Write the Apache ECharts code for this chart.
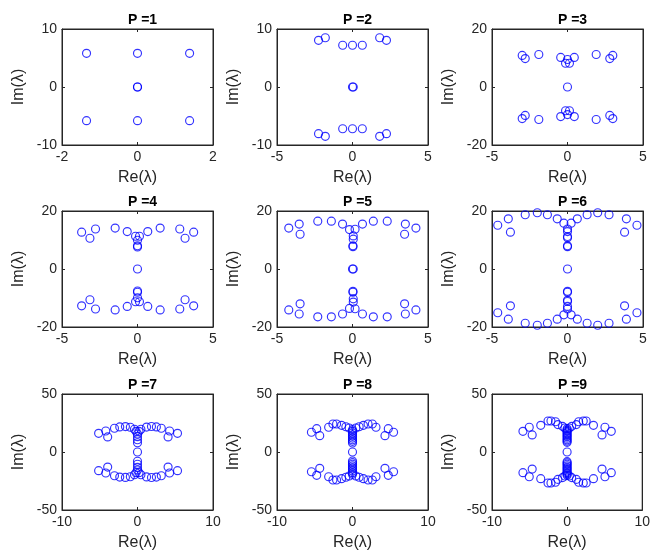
<!DOCTYPE html>
<html><head><meta charset="utf-8">
<script src="https://cdn.jsdelivr.net/npm/echarts@6/dist/echarts.min.js"></script>
<style>html,body{margin:0;padding:0;background:#fff}#c{width:653px;height:558px}</style>
</head><body><div id="c"></div>
<script>
const panelTitles = ['P =1','P =2','P =3','P =4','P =5','P =6','P =7','P =8','P =9'];
const xRanges = [[-2,2,2],[-5,5,5],[-5,5,5],[-5,5,5],[-5,5,5],[-5,5,5],[-10,10,10],[-10,10,10],[-10,10,10]];
const yRanges = [[-10,10,10],[-10,10,10],[-20,20,20],[-20,20,20],[-20,20,20],[-20,20,20],[-50,50,50],[-50,50,50],[-50,50,50]];

const p1 = [[-1.35,5.8],[0,5.8],[1.38,5.8],[0,0],[0,0],[-1.35,-5.8],[0,-5.8],[1.38,-5.8]];
const p2 = [[-2.25,8.05],[-1.8,8.5],[-0.65,7.2],[0,7.2],[0.65,7.2],[1.8,8.5],[2.25,8.05],[0,0],[0.05,0],
  [-2.25,-8.05],[-1.8,-8.5],[-0.65,-7.2],[0,-7.2],[0.65,-7.2],[1.8,-8.5],[2.25,-8.05]];
const p3 = [[-3.0,10.9],[-2.8,9.8],[-1.9,11.2],[-0.45,10.2],[0,9.5],[-0.13,8.2],[0.13,8.2],[0.45,10.2],[1.9,11.2],[2.8,9.8],[3.0,10.9],[0,0],
  [-3.0,-10.9],[-2.8,-9.8],[-1.9,-11.2],[-0.45,-10.2],[0,-9.5],[-0.13,-8.2],[0.13,-8.2],[0.45,-10.2],[1.9,-11.2],[2.8,-9.8],[3.0,-10.9]];
const p4 = [[-3.7,12.7],[-3.15,10.6],[-2.78,13.8],[-1.48,14.1],[-0.68,12.9],[-0.13,11.3],[0.13,11.3],[0,9.9],[0,8.0],[0,7.6],[0.68,12.9],[1.5,14.1],[2.8,13.8],[3.15,10.6],[3.72,12.7],[0,0],
  [-3.7,-12.7],[-3.15,-10.6],[-2.78,-13.8],[-1.48,-14.1],[-0.68,-12.9],[-0.13,-11.3],[0.13,-11.3],[0,-9.9],[0,-8.0],[0,-7.6],[0.68,-12.9],[1.5,-14.1],[2.8,-13.8],[3.15,-10.6],[3.72,-12.7]];
const p5 = [[-4.22,14.1],[-3.53,15.5],[-3.47,12.0],[-2.3,16.5],[-1.4,16.5],[-0.66,15.5],[-0.2,13.6],[0.17,13.7],[0.05,11.4],[0.05,10.3],[0.03,8.0],[0.03,7.7],[0.66,15.5],[1.38,16.5],[2.3,16.5],[3.5,15.5],[3.45,12.0],[4.2,14.1],[0,0],[0.05,0],
  [-4.22,-14.1],[-3.53,-15.5],[-3.47,-12.0],[-2.3,-16.5],[-1.4,-16.5],[-0.66,-15.5],[-0.2,-13.6],[0.17,-13.7],[0.05,-11.4],[0.05,-10.3],[0.03,-8.0],[0.03,-7.7],[0.66,-15.5],[1.38,-16.5],[2.3,-16.5],[3.5,-15.5],[3.45,-12.0],[4.2,-14.1]];
const p6 = [[-4.62,15.1],[-3.92,17.3],[-3.78,12.7],[-2.8,18.7],[-2.0,19.4],[-1.33,18.7],[-0.68,17.3],[-0.24,15.8],[0.24,15.8],[0,13.8],[0,12.9],[0,11.2],[0,10.8],[0,8.0],[0,7.7],[0.65,17.3],[1.3,18.7],[2.0,19.4],[2.75,18.7],[3.9,17.3],[3.78,12.7],[4.6,15.1],[0,0],
  [-4.62,-15.1],[-3.92,-17.3],[-3.78,-12.7],[-2.8,-18.7],[-2.0,-19.4],[-1.33,-18.7],[-0.68,-17.3],[-0.24,-15.8],[0.24,-15.8],[0,-13.8],[0,-12.9],[0,-11.2],[0,-10.8],[0,-8.0],[0,-7.7],[0.65,-17.3],[1.3,-18.7],[2.0,-19.4],[2.75,-18.7],[3.9,-17.3],[3.78,-12.7],[4.6,-15.1]];
const p7 = [[-5.15,16.1],[-4.2,18.1],[-3.95,13.0],[-3.05,20.5],[-2.35,21.6],[-1.6,21.9],[-0.95,21.3],[-0.4,19.6],[-0.2,17.8],[0,15.5],[0,13.2],[0,10.6],[0,8.0],[0.2,17.8],[0.45,19.6],[1.2,21.5],[1.85,22.0],[2.5,21.6],[3.15,20.5],[4.25,18.1],[4.05,13.0],[5.3,16.1],[0,0],
  [-5.15,-16.1],[-4.2,-18.1],[-3.95,-13.0],[-3.05,-20.5],[-2.35,-21.6],[-1.6,-21.9],[-0.95,-21.3],[-0.4,-19.6],[-0.2,-17.8],[0,-15.5],[0,-13.2],[0,-10.6],[0,-8.0],[0.2,-17.8],[0.45,-19.6],[1.2,-21.5],[1.85,-22.0],[2.5,-21.6],[3.15,-20.5],[4.25,-18.1],[4.05,-13.0],[5.3,-16.1]];
const p8 = [[-5.44,17.0],[-4.74,20.1],[-4.34,14.1],[-3.16,21.3],[-2.59,24.1],[-2.11,24.1],[-1.45,23.0],[-0.88,21.8],[-0.44,20.7],[0,19.3],[0,17.8],[0,16.4],[0,14.9],[0,13.5],[0,12.0],[0,10.6],[0,9.2],[0,7.8],[0.44,20.7],[0.88,21.8],[1.45,23.0],[2.06,24.1],[2.63,24.1],[3.11,21.3],[4.3,14.1],[4.74,20.1],[5.44,17.0],[0,0],
  [-5.44,-17.0],[-4.74,-20.1],[-4.34,-14.1],[-3.16,-21.3],[-2.59,-24.1],[-2.11,-24.1],[-1.45,-23.0],[-0.88,-21.8],[-0.44,-20.7],[0,-19.3],[0,-17.8],[0,-16.4],[0,-14.9],[0,-13.5],[0,-12.0],[0,-10.6],[0,-9.2],[0,-7.8],[0.44,-20.7],[0.88,-21.8],[1.45,-23.0],[2.06,-24.1],[2.63,-24.1],[3.11,-21.3],[4.3,-14.1],[4.74,-20.1],[5.44,-17.0]];
const p9 = [[-5.88,17.8],[-5.04,21.3],[-4.65,14.7],[-3.51,23.0],[-2.54,26.7],[-2.15,26.7],[-1.54,26.1],[-1.23,23.6],[-0.61,22.1],[-0.3,20.7],[0,20.1],[0,18.9],[0,17.8],[0,16.6],[0,15.5],[0,14.3],[0,13.2],[0,11.9],[0,10.6],[0,9.4],[0,8.3],[0.3,20.7],[0.61,22.1],[1.23,23.6],[1.54,26.1],[2.15,26.7],[2.54,26.7],[3.51,23.0],[4.65,14.7],[5.04,21.3],[5.88,17.8],[0,0],
  [-5.88,-17.8],[-5.04,-21.3],[-4.65,-14.7],[-3.51,-23.0],[-2.54,-26.7],[-2.15,-26.7],[-1.54,-26.1],[-1.23,-23.6],[-0.61,-22.1],[-0.3,-20.7],[0,-20.1],[0,-18.9],[0,-17.8],[0,-16.6],[0,-15.5],[0,-14.3],[0,-13.2],[0,-11.9],[0,-10.6],[0,-9.4],[0,-8.3],[0.3,-20.7],[0.61,-22.1],[1.23,-23.6],[1.54,-26.1],[2.15,-26.7],[2.54,-26.7],[3.51,-23.0],[4.65,-14.7],[5.04,-21.3],[5.88,-17.8]];

const panelData = [p1,p2,p3,p4,p5,p6,p7,p8,p9];

const FONT = 'Liberation Sans';
const INK = '#262626';
const colLeft = [62, 277, 492];
const rowTop = [29, 211, 394];
const W = 151, H = 116;

const option = {
  animation: false,
  backgroundColor: '#fff',
  textStyle: {fontFamily: FONT},
  title: [], grid: [], xAxis: [], yAxis: [], series: []
};

for (let i = 0; i < 9; i++) {
  const r = Math.floor(i / 3), c = i % 3;
  const left = colLeft[c], top = rowTop[r];
  option.grid.push({left: left, top: top, width: W, height: H, show: true, borderColor: INK, borderWidth: 1, backgroundColor: '#fff'});
  option.title.push({
    text: panelTitles[i], left: left + W / 2, top: top - 21, textAlign: 'center',
    textStyle: {fontFamily: FONT, fontSize: 14, fontWeight: 'bold', color: '#000'}
  });
  const xr = xRanges[i], yr = yRanges[i];
  const axisCommon = {
    type: 'value', splitLine: {show: false},
    axisLine: {show: true, onZero: false, lineStyle: {color: INK, width: 1}},
    axisTick: {show: true, inside: true, length: 3, lineStyle: {color: INK}}
  };
  option.xAxis.push(Object.assign({}, axisCommon, {
    gridIndex: i, position: 'bottom', min: xr[0], max: xr[1], interval: xr[2],
    name: 'Re(λ)', nameLocation: 'middle', nameGap: 25,
    nameTextStyle: {fontFamily: FONT, fontSize: 16, color: INK},
    axisLabel: {fontFamily: FONT, fontSize: 14, color: INK, margin: 5}
  }));
  option.xAxis.push(Object.assign({}, axisCommon, {
    gridIndex: i, position: 'top', min: xr[0], max: xr[1], interval: xr[2],
    axisLabel: {show: false}
  }));
  option.yAxis.push(Object.assign({}, axisCommon, {
    gridIndex: i, position: 'left', min: yr[0], max: yr[1], interval: yr[2],
    name: 'Im(λ)', nameLocation: 'middle', nameGap: 35,
    nameTextStyle: {fontFamily: FONT, fontSize: 16, color: INK},
    axisLabel: {fontFamily: FONT, fontSize: 14, color: INK, margin: 5}
  }));
  option.yAxis.push(Object.assign({}, axisCommon, {
    gridIndex: i, position: 'right', min: yr[0], max: yr[1], interval: yr[2],
    axisLabel: {show: false}
  }));
  option.series.push({
    type: 'scatter', xAxisIndex: 2 * i, yAxisIndex: 2 * i,
    data: panelData[i], symbol: 'circle', symbolSize: 8,
    itemStyle: {color: 'rgba(0,0,0,0)', borderColor: '#0000ff', borderWidth: 1.15},
    emphasis: {disabled: true}
  });
}

const chart = echarts.init(document.getElementById('c'), null, {renderer: 'canvas'});
chart.setOption(option);
</script>
</body></html>
